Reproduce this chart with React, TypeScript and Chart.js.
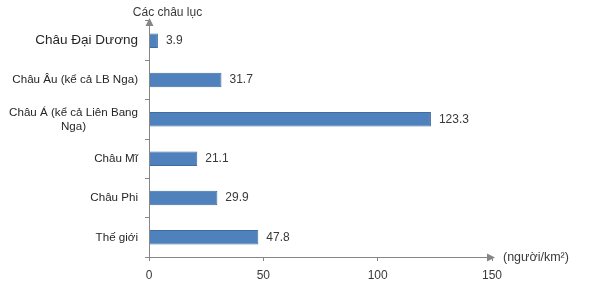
import React, { useEffect, useRef } from "react";
import { Chart, registerables } from "chart.js";

Chart.register(...registerables);

const categories: string[][] = [
  ["Châu Đại Dương"],
  ["Châu Âu (kể cả LB Nga)"],
  ["Châu Á (kể cả Liên Bang", "Nga)"],
  ["Châu Mĩ"],
  ["Châu Phi"],
  ["Thế giới"],
];
const densityValues: number[] = [3.9, 31.7, 123.3, 21.1, 29.9, 47.8];
const xTicks: number[] = [0, 50, 100, 150];
const yAxisTitle = "Các châu lục";
const xAxisUnit = "(người/km²)";

const FONT = "'Liberation Sans', Arial, sans-serif";
const AXIS = "#868686";
const TEXT = "#3a3a3a";

const overlay = {
  id: "overlay",
  afterDraw(chart: any) {
    const ctx = chart.ctx;
    const area = chart.chartArea;
    const ys = chart.scales.y;
    ctx.save();
    // axis arrows
    ctx.strokeStyle = AXIS;
    ctx.fillStyle = AXIS;
    ctx.lineWidth = 1;
    const bx = Math.round(area.left) + 0.5;
    const by = Math.round(area.bottom) + 0.5;
    ctx.beginPath();
    ctx.moveTo(bx, by);
    ctx.lineTo(area.right + 2, by);
    ctx.moveTo(bx, by);
    ctx.lineTo(bx, area.top - 2);
    ctx.stroke();
    ctx.beginPath();
    ctx.moveTo(area.right + 3, by);
    ctx.lineTo(area.right - 5, by - 4);
    ctx.lineTo(area.right - 5, by + 4);
    ctx.closePath();
    ctx.fill();
    ctx.beginPath();
    ctx.moveTo(bx, area.top - 3);
    ctx.lineTo(bx - 4, area.top + 5);
    ctx.lineTo(bx + 4, area.top + 5);
    ctx.closePath();
    ctx.fill();

    // axis titles
    ctx.fillStyle = TEXT;
    ctx.font = `12px ${FONT}`;
    ctx.textBaseline = "middle";
    ctx.textAlign = "center";
    ctx.fillText(yAxisTitle, bx + 18, 13);
    ctx.textAlign = "left";
    ctx.font = `12.5px ${FONT}`;
    ctx.fillText(xAxisUnit, area.right + 11, by);

    // category labels
    ctx.fillStyle = "#262626";
    const labelRight = area.left - 11;
    categories.forEach((lines, i) => {
      const y = ys.getPixelForValue(i);
      const size = i === 0 ? 13.5 : 11.6;
      ctx.font = `${size}px ${FONT}`;
      const lh = 14;
      if (lines.length === 1) {
        ctx.textAlign = "right";
        ctx.fillText(lines[0], labelRight, y);
      } else {
        const w = Math.max(...lines.map((l) => ctx.measureText(l).width));
        const cx = labelRight - w / 2;
        ctx.textAlign = "center";
        lines.forEach((l, k) => {
          ctx.fillText(l, cx, y + (k - (lines.length - 1) / 2) * lh);
        });
      }
    });

    // data labels
    ctx.fillStyle = TEXT;
    ctx.font = `12px ${FONT}`;
    ctx.textAlign = "left";
    const meta = chart.getDatasetMeta(0);
    meta.data.forEach((bar: any, i: number) => {
      ctx.fillText(densityValues[i].toFixed(1), bar.x + 8, bar.y);
    });
    ctx.restore();
  },
};

export default function App() {
  const ref = useRef<HTMLCanvasElement | null>(null);
  useEffect(() => {
    if (!ref.current) return;
    const chart = new Chart(ref.current, {
      type: "bar",
      data: {
        labels: categories.map((c) => c.join(" ")),
        datasets: [
          {
            data: densityValues,
            backgroundColor: "#4F81BD",
            borderColor: "#3F6DA3",
            borderWidth: 1,
            barPercentage: 0.37,
            categoryPercentage: 1,
          },
        ],
      },
      options: {
        indexAxis: "y",
        animation: false,
        responsive: false,
        maintainAspectRatio: false,
        layout: { padding: { left: 0, right: 108, top: 21, bottom: 0 } },
        plugins: { legend: { display: false }, tooltip: { enabled: false }, title: { display: false } },
        scales: {
          x: {
            min: 0,
            max: 150,
            afterBuildTicks: (scale: any) => {
              scale.ticks = xTicks.map((v) => ({ value: v }));
            },
            afterFit: (scale: any) => {
              scale.height = 35;
            },
            border: { display: false },
            grid: { drawOnChartArea: false, drawTicks: true, tickLength: 4, color: AXIS },
            ticks: { color: TEXT, font: { family: FONT, size: 12 }, padding: 7, maxRotation: 0 },
          },
          y: {
            afterFit: (scale: any) => {
              scale.width = 149;
            },
            border: { display: false },
            grid: { offset: true, drawOnChartArea: false, drawTicks: true, tickLength: 4, color: AXIS },
            ticks: { display: false },
          },
        },
      },
      plugins: [overlay],
    });
    return () => chart.destroy();
  }, []);
  return (
    <div style={{ position: "absolute", left: 0, top: 0, width: 600, height: 292, background: "#fff" }}>
      <canvas ref={ref} width={600} height={292} style={{ width: 600, height: 292 }} />
    </div>
  );
}
